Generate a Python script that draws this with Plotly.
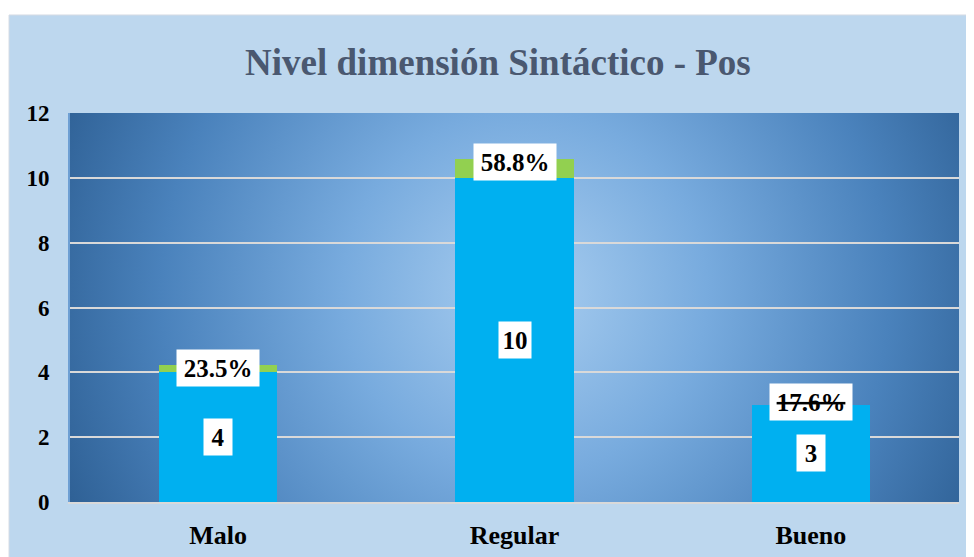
import base64
import plotly.graph_objects as go

categories = ["Malo", "Regular", "Bueno"]
counts = [4, 10, 3]
percents = [23.5, 58.8, 17.6]
y_ticks = [0, 2, 4, 6, 8, 10, 12]

SERIF = "Liberation Serif, Times New Roman, serif"
BLUE = "#00B0F0"
GREEN = "#92D050"

# radial gradient for the plot area, as an svg data-uri layout image
_svg = (
    "<svg xmlns='http://www.w3.org/2000/svg' width='889' height='389' "
    "viewBox='0 0 889 389' preserveAspectRatio='none'>"
    "<defs><radialGradient id='g' gradientUnits='userSpaceOnUse' cx='455' cy='180' r='520'>"
    "<stop offset='0' stop-color='#A9CEF0'/>"
    "<stop offset='0.35' stop-color='#78ABDE'/>"
    "<stop offset='0.7' stop-color='#4A82BC'/>"
    "<stop offset='1' stop-color='#2B5C90'/>"
    "</radialGradient></defs>"
    "<rect width='889' height='389' fill='url(#g)'/></svg>"
)
_bg = "data:image/svg+xml;base64," + base64.b64encode(_svg.encode()).decode()

fig = go.Figure()
fig.add_bar(x=categories, y=counts, marker=dict(color=BLUE, line_width=0),
            name="n", hoverinfo="skip")
# the green % segment of "Bueno" is hidden in the original (label covers it)
fig.add_bar(x=categories, y=[p / 100 for p in percents],
            marker=dict(color=[GREEN, GREEN, "rgba(0,0,0,0)"], line_width=0),
            name="%", hoverinfo="skip")

# value labels in white boxes
for cat, n, p in zip(categories, counts, percents):
    fig.add_annotation(x=cat, y=n / 2, text=f"<b>{n}</b>", showarrow=False,
                       font=dict(family=SERIF, size=25, color="black"),
                       bgcolor="white", borderpad=4, height=28,
                       width=max(20, 12 * len(str(n))))
    fnt = dict(family=SERIF, size=25, color="black")
    if cat == "Bueno":
        fnt["lineposition"] = "through"
    fig.add_annotation(x=cat, y=n + p / 100, yshift=-3, text=f"<b>{p:.1f}%</b>", showarrow=False,
                       font=fnt, bgcolor="white", borderpad=4, width=74, height=28)

# outer light-blue chart panel
fig.add_shape(type="rect", xref="paper", yref="paper", layer="below",
              x0=-0.0686, x1=1.05, y0=-0.2, y1=1.252,
              fillcolor="#BDD7EE", line=dict(color="#D6DCE4", width=1))

fig.add_layout_image(source=_bg, xref="x", yref="y", x=-0.5, y=12, sizex=3, sizey=12,
                     xanchor="left", yanchor="top", sizing="stretch", layer="below")

fig.update_layout(
    width=974, height=557, barmode="stack", bargap=0.6, showlegend=False,
    paper_bgcolor="white", plot_bgcolor="rgba(0,0,0,0)",
    margin=dict(l=62, r=23, t=105, b=63, autoexpand=False),
    title=dict(text="<b>Nivel dimensión Sintáctico - Pos</b>", x=0.503, xanchor="center",
               y=1 - 54 / 557, yanchor="middle",
               font=dict(family=SERIF, size=37, color="#4A5870")),
)
fig.update_xaxes(range=[-0.5, 2.5], showgrid=False, showline=True, linecolor="#D9D9D9", linewidth=2,
                 ticks="", ticklabelstandoff=9, automargin=False,
                 tickfont=dict(family=SERIF, size=26, color="black", weight="bold"))
fig.update_yaxes(range=[0, 12], tickvals=y_ticks, showgrid=True, gridcolor="#D9D9D9", gridwidth=2,
                 showline=True, linecolor="#6E9FD3", linewidth=2, zeroline=False,
                 ticks="", ticklabelstandoff=14, automargin=False,
                 tickfont=dict(family=SERIF, size=23, color="black", weight="bold"))

fig.write_html("out.html")
